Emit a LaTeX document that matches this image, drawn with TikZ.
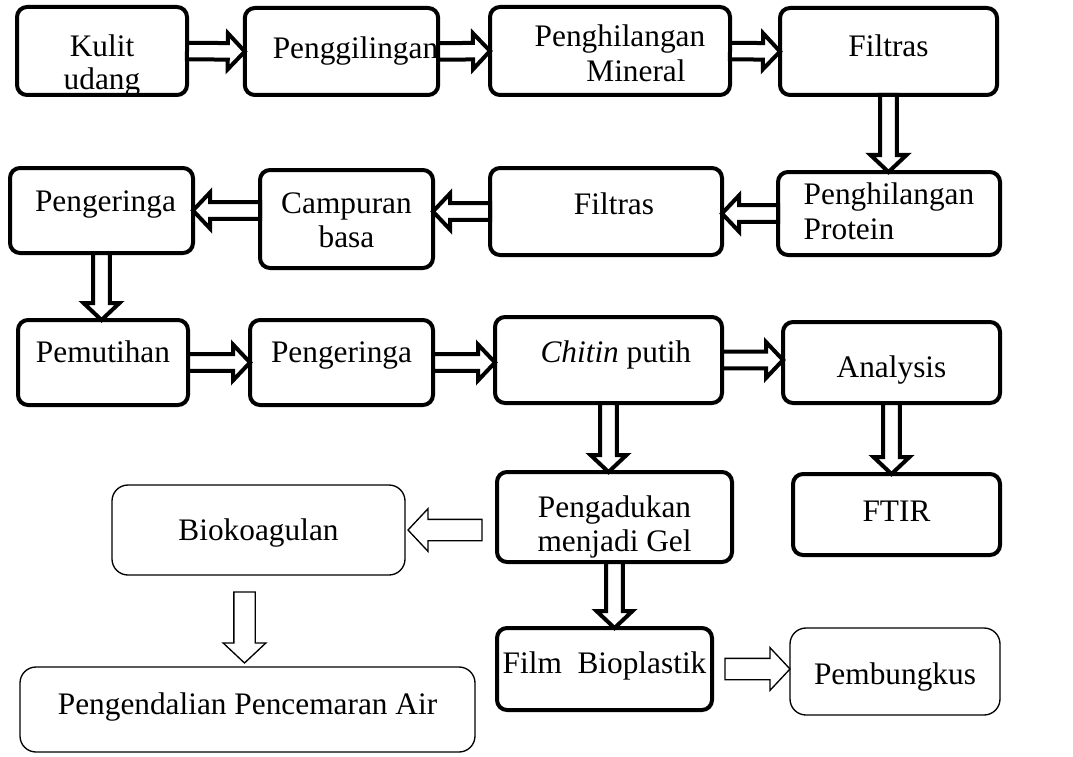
\documentclass[tikz,border=0pt]{standalone}
\usepackage{fontspec}
\setmainfont{Liberation Serif}
\usetikzlibrary{calc}

% text of a box, first baseline #2 pt below the centre
\newcommand{\tx}[3][c]{\raisebox{-#2pt}[0pt][0pt]{\begin{tabular}[t]{@{}#1@{}}#3\end{tabular}}}

% hollow block arrow: style, shaft half width, head half width, head length, from, to
\newcommand{\blockarrow}[6]{%
  \path ($(#6)!#4!(#5)$) coordinate (ah);
  \draw[#1] ($(#5)!#2!90:(#6)$) -- ($(ah)!#2!90:(#6)$) -- ($(ah)!#3!90:(#6)$) -- (#6)
    -- ($(ah)!#3!-90:(#6)$) -- ($(ah)!#2!-90:(#6)$) -- ($(#5)!#2!-90:(#6)$) -- cycle;}
\newcommand{\fatarrow}[2]{\blockarrow{fat}{6.2pt}{13.5pt}{12.75pt}{#1}{#2}}
\newcommand{\slimarrow}[2]{\blockarrow{slim}{8pt}{16pt}{15pt}{#1}{#2}}

\begin{document}
\begin{tikzpicture}[x=0.75pt, y=-0.75pt,
  stage/.style={draw, line width=3pt, rounded corners=7.5pt, inner sep=0pt, outer sep=0pt,
    font=\fontsize{23.5}{26}\selectfont},
  final/.style={stage, line width=1pt, rounded corners=12pt},
  fat/.style={draw, fill=white, line width=3pt, line join=miter},
  slim/.style={draw, fill=white, line width=1pt}]
\useasboundingbox (0,0) rectangle (1073,756);

% first row
\node[stage, minimum width=127.5pt, minimum height=66pt] (kulit) at (102,51) {\tx{4}{Kulit\\[-1pt]udang}};
\node[stage, minimum width=137.25pt, minimum height=65.25pt] (giling) at (341.5,51.5) {\hspace{21pt}\tx{4.9}{Penggilingan}};
\node[stage, minimum width=180pt, minimum height=66pt] (mineral) at (610,51) {\hspace{15pt}\tx{-3}{Penghilangan\\\hspace{24pt}Mineral}};
\node[stage, minimum width=162.75pt, minimum height=65.25pt] (filtras1) at (888.5,51.5) {\tx{4}{Filtras}};

% second row
\node[stage, minimum width=137.25pt, minimum height=63.75pt] (pengering1) at (101.5,210.5) {\hspace{6pt}\tx{1}{Pengeringa}};
\node[stage, minimum width=129.75pt, minimum height=73.5pt] (campuran) at (346.5,219) {\tx{-4.5}{Campuran\\basa}\hspace{21pt}};
\node[stage, minimum width=174pt, minimum height=65.25pt] (filtras2) at (606,211.5) {\hspace{12pt}\tx{2.6}{Filtras}};
\node[stage, minimum width=166.5pt, minimum height=62.25pt] (protein) at (889,213.5) {\tx[l]{-6.4}{Penghilangan\\Protein}\hspace{40pt}};

% third row
\node[stage, minimum width=127.5pt, minimum height=63.75pt] (pemutihan) at (103,362.5) {\tx{0}{Pemutihan}};
\node[stage, minimum width=137.25pt, minimum height=63.75pt] (pengering2) at (341.5,362.5) {\tx{0}{Pengeringa}\hspace{8pt}};
\node[stage, minimum width=170.25pt, minimum height=64.5pt] (chitin) at (608.5,360) {\hspace{11pt}\tx{1.5}{\textit{Chitin} putih}};
\node[stage, minimum width=162.75pt, minimum height=60.75pt] (analysis) at (891.5,362.5) {\tx{10.9}{Analysis}\hspace{20pt}};

% products
\node[stage, minimum width=176.25pt, minimum height=67.5pt] (pengadukan) at (614.5,517) {\tx{0}{Pengadukan\\menjadi Gel}};
\node[stage, minimum width=155.25pt, minimum height=60.75pt] (ftir) at (896.5,514.5) {\tx{5.6}{FTIR}};
\node[stage, minimum width=161.25pt, minimum height=61.5pt] (film) at (604.5,669) {\tx{3}{Film\ \ Bioplastik}};
\node[final, minimum width=219.75pt, minimum height=67.5pt] (bio) at (258.5,530) {\tx{7.5}{Biokoagulan}\hspace{11pt}};
\node[final, minimum width=157.5pt, minimum height=65.25pt] (pembungkus) at (895,671.5) {\tx{10}{Pembungkus}};
\node[final, minimum width=341.25pt, minimum height=63.75pt] (pengendalian) at (247.5,709.5) {\tx{4}{Pengendalian Pencemaran Air}};

% process arrows
\fatarrow{kulit.east}{giling.west}
\fatarrow{giling.east}{mineral.west}
\fatarrow{mineral.east}{filtras1.west}
\fatarrow{filtras1.south}{filtras1.south |- protein.north}
\fatarrow{protein.west}{protein.west -| filtras2.east}
\fatarrow{filtras2.west}{filtras2.west -| campuran.east}
\fatarrow{pengering1.east -| campuran.west}{pengering1.east}
\fatarrow{pengering1.south}{pengering1.south |- pemutihan.north}
\fatarrow{pemutihan.east}{pengering2.west}
\fatarrow{pengering2.east}{pengering2.east -| chitin.west}
\fatarrow{chitin.east}{chitin.east -| analysis.west}
\fatarrow{analysis.south}{analysis.south |- ftir.north}
\fatarrow{chitin.south}{chitin.south |- pengadukan.north}
\fatarrow{pengadukan.south}{pengadukan.south |- film.north}

% uses
\coordinate (gelgap) at ($(pengadukan.west |- bio.east)+(-15,0)$);
\coordinate (bioend) at ($(bio.east)+(3,0)$);
\coordinate (biogap) at ($(bio.south)+(-14,17)$);
\coordinate (airend) at ($(biogap |- pengendalian.north)+(0,-4)$);
\coordinate (filmgap) at ($(film.east)+(13,0)$);
\slimarrow{gelgap}{bioend}
\slimarrow{biogap}{airend}
\slimarrow{filmgap}{filmgap -| pembungkus.west}
\end{tikzpicture}
\end{document}
